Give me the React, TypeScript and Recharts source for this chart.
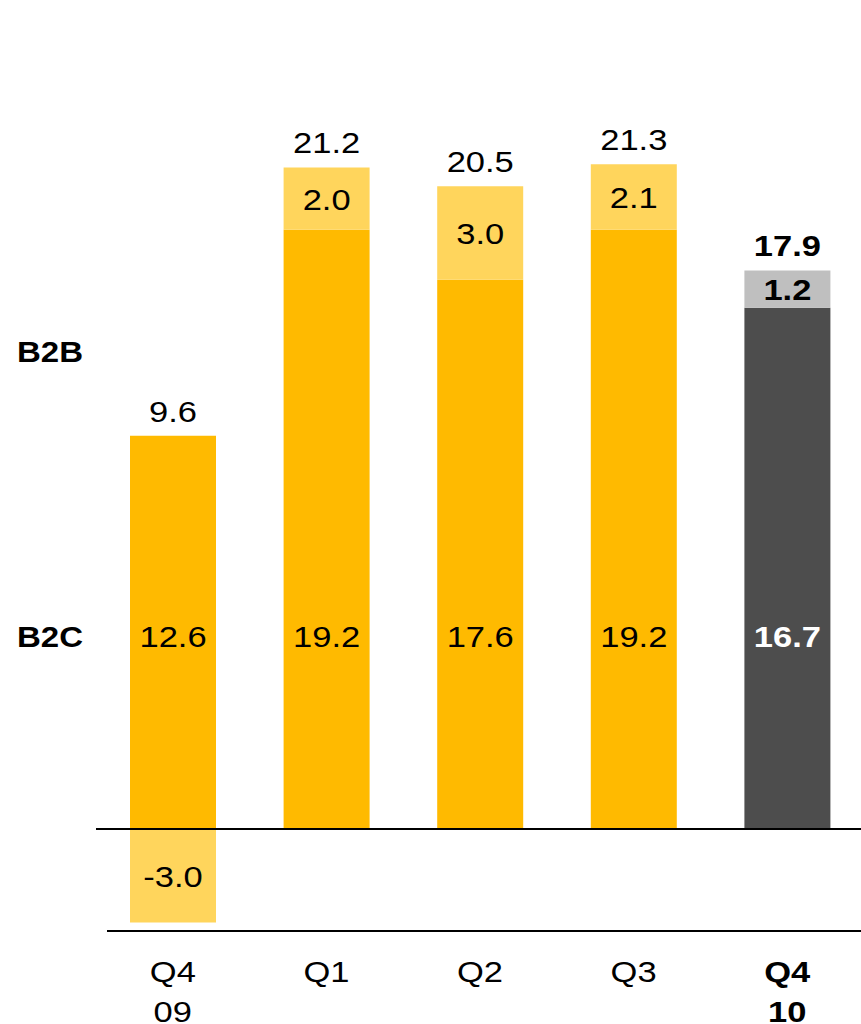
import React from "react";
import { BarChart, Bar, XAxis, YAxis, ReferenceLine, LabelList, Cell } from "recharts";

const categories = ["Q4 09", "Q1", "Q2", "Q3", "Q4 10"];
const b2cValues = [12.6, 19.2, 17.6, 19.2, 16.7];
const b2bValues = [-3.0, 2.0, 3.0, 2.1, 1.2];
const totalValues = [9.6, 21.2, 20.5, 21.3, 17.9];
const highlightIndex = 4;
const rowLabels = ["B2B", "B2C"];

const data = categories.map((c, i) => ({
  name: c,
  b2c: b2cValues[i],
  b2b: b2bValues[i],
  total: totalValues[i],
}));

const FONT = "'Liberation Sans', Arial, Helvetica, sans-serif";
const FS = 30;
const SX = 1.15;

const YELLOW = "#FFBA00";
const LIGHT_YELLOW = "#FFD55C";
const DARK = "#4D4D4D";
const LIGHT_GRAY = "#BFBFBF";

const fmt = (v: number) => v.toFixed(1);

function SText({ x, y, children, bold, fill, sx }: any) {
  return (
    <text
      x={0}
      y={0}
      transform={`translate(${x},${y}) scale(${sx || SX},1)`}
      textAnchor="middle"
      fontFamily={FONT}
      fontSize={FS}
      fontWeight={bold ? "bold" : "normal"}
      fill={fill || "#000"}
    >
      {children}
    </text>
  );
}

const b2bInside = (p: any) => {
  const { x, y, width, height, index } = p;
  const cx = x + width / 2;
  const cy = y + height / 2;
  const hl = index === highlightIndex;
  const nodes: any[] = [
    <SText key="v" x={cx} y={cy + 11} bold={hl}>
      {fmt(b2bValues[index])}
    </SText>,
  ];
  if (b2bValues[index] >= 0) {
    const top = Math.min(y, y + height);
    nodes.push(
      <SText key="t" x={cx} y={top - 14} bold={hl}>
        {fmt(totalValues[index])}
      </SText>
    );
  }
  return <g>{nodes}</g>;
};

const b2cInside = (p: any) => {
  const { x, y, width, height, index } = p;
  const cx = x + width / 2;
  const bottom = Math.max(y, y + height);
  const top = Math.min(y, y + height);
  const hl = index === highlightIndex;
  const nodes: any[] = [
    <SText key="v" x={cx} y={bottom - 182} bold={hl} fill={hl ? "#fff" : "#000"}>
      {fmt(b2cValues[index])}
    </SText>,
  ];
  if (b2bValues[index] < 0) {
    nodes.push(
      <SText key="t" x={cx} y={top - 14} bold={hl}>
        {fmt(totalValues[index])}
      </SText>
    );
  }
  return <g>{nodes}</g>;
};

const Tick = (p: any) => {
  const { x, y, payload, index } = p;
  const parts = String(payload.value).split(" ");
  const hl = index === highlightIndex;
  return (
    <g>
      {parts.map((t, i) => (
        <SText key={i} x={x} y={y + 43 + i * 40} bold={hl}>
          {t}
        </SText>
      ))}
    </g>
  );
};

const bottomLine = (p: any) => (
  <line x1={p.x1 + 11} y1={p.y1} x2={p.x2} y2={p.y2} stroke="#000" strokeWidth={2} />
);

export default function App() {
  return (
    <div
      style={{
        position: "absolute",
        left: 8,
        top: 8,
        width: 853,
        height: 1016,
        overflow: "hidden",
      }}
    >
      <BarChart
        width={856}
        height={1016}
        data={data}
        stackOffset="sign"
        margin={{ top: 0, right: 0, left: 88, bottom: 0 }}
        barSize={86}
      >
        <XAxis
          dataKey="name"
          axisLine={false}
          tickLine={false}
          height={93}
          tick={<Tick />}
          interval={0}
        />
        <YAxis hide type="number" domain={[-3.27, 26.31]} allowDataOverflow />
        <Bar dataKey="b2c" stackId="s" isAnimationActive={false}>
          {data.map((d, i) => (
            <Cell key={i} fill={i === highlightIndex ? DARK : YELLOW} />
          ))}
          <LabelList dataKey="b2c" content={b2cInside} />
        </Bar>
        <Bar dataKey="b2b" stackId="s" isAnimationActive={false}>
          {data.map((d, i) => (
            <Cell key={i} fill={i === highlightIndex ? LIGHT_GRAY : LIGHT_YELLOW} />
          ))}
          <LabelList dataKey="b2b" content={b2bInside} />
        </Bar>
        <ReferenceLine y={0} stroke="#000" strokeWidth={2} />
        <ReferenceLine y={-3.27} shape={bottomLine} />
      </BarChart>
      <svg
        width={853}
        height={1016}
        style={{ position: "absolute", left: 0, top: 0, pointerEvents: "none" }}
      >
        {rowLabels.map((t, i) => (
          <text
            key={t}
            x={0}
            y={0}
            transform={`translate(9,${i === 0 ? 354 : 639}) scale(1.1,1)`}
            fontFamily={FONT}
            fontSize={FS}
            fontWeight="bold"
          >
            {t}
          </text>
        ))}
      </svg>
    </div>
  );
}
